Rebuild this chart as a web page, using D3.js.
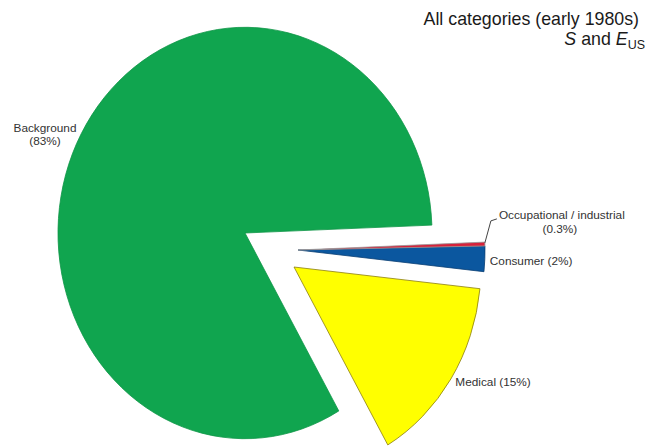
<!DOCTYPE html>
<html>
<head>
<meta charset="utf-8">
<script src="https://cdn.jsdelivr.net/npm/d3@7"></script>
<style>
  html, body { margin: 0; padding: 0; background: #fff; }
  svg { display: block; font-family: "Liberation Sans", Arial, sans-serif; }
</style>
</head>
<body>
<svg id="chart" width="662" height="447"></svg>
<script>
// ---- data ----
const categories = ["Occupational / industrial", "Consumer", "Medical", "Background"];
const shares = [0.3, 2, 15, 83];
const shareLabels = ["(0.3%)", "(2%)", "(15%)", "(83%)"];
const colors = ["#d7213a", "#0b579f", "#ffff00", "#10a54f"];
const strokes = ["#9a9a9a", "#0a3f73", "#8b7d10", "#0e9646"];

// ---- layout ----
const W = 662, H = 447;
const cx = 245, cy = 233, R = 187, yStretch = 1.1;
const startDeg = 87.8;
// explode offsets (screen px) for each slice
const explode = [[53, 17], [53, 17], [49, 34], [0, 0]];

const svg = d3.select("#chart");

const pie = d3.pie().sort(null).value(d => d)
  .startAngle(startDeg * Math.PI / 180)
  .endAngle(startDeg * Math.PI / 180 + 2 * Math.PI);
const arcs = pie(shares);
const arcGen = d3.arc().innerRadius(0).outerRadius(R);

// draw slices (green first so others on top)
const order = [3, 2, 1, 0];
order.forEach(i => {
  const a = arcs[i];
  svg.append("g")
    .attr("transform", `translate(${cx + explode[i][0]},${cy + explode[i][1]}) scale(1,${yStretch})`)
    .append("path")
    .attr("d", arcGen(a))
    .attr("fill", colors[i])
    .attr("stroke", strokes[i])
    .attr("stroke-width", 0.8)
    .attr("vector-effect", "non-scaling-stroke")
    .attr("stroke-linejoin", "miter");
});

// helper: screen point of slice i at d3-angle ang and radius r
function pt(i, ang, r) {
  return [cx + explode[i][0] + r * Math.sin(ang),
          cy + explode[i][1] - r * Math.cos(ang) * yStretch];
}

const txtColor = "#333";
const fs = 11.8;

// Background label (left of pie)
{
  const g = svg.append("text").attr("text-anchor", "middle")
    .attr("font-size", fs).attr("fill", txtColor);
  g.append("tspan").attr("x", 45).attr("y", 131.5).text(categories[3]);
  g.append("tspan").attr("x", 45).attr("y", 145).text(shareLabels[3]);
}

// Occupational / industrial label with leader line
{
  const a = arcs[0];
  const p = pt(0, a.startAngle + 0.2 * (a.endAngle - a.startAngle), R);
  svg.append("path")
    .attr("d", d3.line()([[p[0], p[1]], [p[0] + 6, p[1] - 22], [p[0] + 12, p[1] - 24]]))
    .attr("fill", "none").attr("stroke", "#444").attr("stroke-width", 1);
  const t = svg.append("text").attr("font-size", fs).attr("fill", txtColor);
  t.append("tspan").attr("x", p[0] + 14).attr("y", p[1] - 23.5).text(categories[0]);
  svg.append("text").attr("font-size", fs).attr("fill", txtColor)
    .attr("text-anchor", "middle")
    .attr("x", p[0] + 75).attr("y", p[1] - 10).text(shareLabels[0]);
}

// Consumer label
{
  const a = arcs[1];
  const p = pt(1, (a.startAngle + a.endAngle) / 2, R);
  svg.append("text").attr("font-size", fs).attr("fill", txtColor)
    .attr("x", p[0] + 5).attr("y", p[1] + 6)
    .text(categories[1] + " " + shareLabels[1]);
}

// Medical label
{
  const a = arcs[2];
  const p = pt(2, a.startAngle + 0.44 * (a.endAngle - a.startAngle), R);
  svg.append("text").attr("font-size", fs).attr("fill", txtColor)
    .attr("x", p[0] - 1).attr("y", p[1] + 16.5)
    .text(categories[2] + " " + shareLabels[2]);
}

// Title
svg.append("text").attr("text-anchor", "end").attr("x", 639).attr("y", 24.5)
  .attr("font-size", 17.8).attr("fill", "#1a1a1a")
  .text("All categories (early 1980s)");
const t2 = svg.append("text").attr("text-anchor", "end").attr("x", 645).attr("y", 45)
  .attr("font-size", 17.8).attr("fill", "#1a1a1a");
t2.append("tspan").attr("font-style", "italic").text("S");
t2.append("tspan").text(" and ");
t2.append("tspan").attr("font-style", "italic").text("E");
t2.append("tspan").attr("font-size", 12.5).attr("dy", 4).text("US");
</script>
</body>
</html>
